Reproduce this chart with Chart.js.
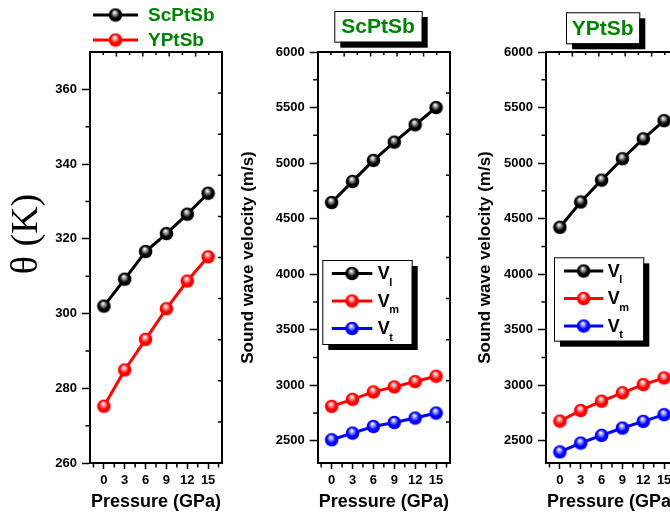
<!DOCTYPE html>
<html>
<head>
<meta charset="utf-8">
<script src="https://cdn.jsdelivr.net/npm/chart.js@4"></script>
<style>
  html, body { margin: 0; padding: 0; background: #fff; }
  #wrap { position: relative; width: 670px; height: 521px; overflow: hidden; background: #fff; }
  .panel { position: absolute; top: 0; height: 521px; }
  #c1 { left: 0; width: 232px; }
  #c2 { left: 232px; width: 228px; }
  #c3 { left: 460px; width: 228px; }
</style>
</head>
<body>
<div id="wrap">
  <div class="panel" id="c1"><canvas id="debyeChart"></canvas></div>
  <div class="panel" id="c2"><canvas id="scChart"></canvas></div>
  <div class="panel" id="c3"><canvas id="yChart"></canvas></div>
</div>
<script>
// data
const pressure = [0, 3, 6, 9, 12, 15];
const pressureTicks = [0, 3, 6, 9, 12, 15];
const pressureMinor = [-1.5, 1.5, 4.5, 7.5, 10.5, 13.5, 16.5];

const thetaScPtSb = [302.0, 309.2, 316.6, 321.4, 326.6, 332.2];
const thetaYPtSb = [275.2, 284.9, 293.1, 301.3, 308.7, 315.2];
const thetaTicks = [260, 280, 300, 320, 340, 360];
const thetaMinor = [270, 290, 310, 330, 350];

const vlScPtSb = [4645, 4835, 5024, 5189, 5345, 5500];
const vmScPtSb = [2810, 2873, 2940, 2985, 3033, 3081];
const vtScPtSb = [2509, 2569, 2629, 2665, 2705, 2750];

const vlYPtSb = [4422, 4650, 4847, 5039, 5218, 5382];
const vmYPtSb = [2677, 2773, 2857, 2932, 3006, 3066];
const vtYPtSb = [2400, 2480, 2549, 2615, 2675, 2735];

const velTicks = [2500, 3000, 3500, 4000, 4500, 5000, 5500, 6000];
const velMinor = [2750, 3250, 3750, 4250, 4750, 5250, 5750];

const GREEN = '#008000';
const FONT = 'Arial, "Liberation Sans", sans-serif';

// shaded ball used as point marker
function ball(color, light) {
  const size = 15, r = 6.8;
  const c = document.createElement('canvas');
  c.width = size; c.height = size;
  const g = c.getContext('2d');
  const grad = g.createRadialGradient(size / 2 - 1, size / 2 - 2.8, 0.3, size / 2, size / 2, r);
  grad.addColorStop(0, '#ffffff');
  grad.addColorStop(0.25, light);
  grad.addColorStop(0.62, color);
  grad.addColorStop(1, color);
  g.beginPath();
  g.arc(size / 2, size / 2, r, 0, Math.PI * 2);
  g.fillStyle = grad;
  g.fill();
  return c;
}
const balls = {
  black: ball('#000000', '#a0a0a0'),
  red: ball('#ff0000', '#ffa0a0'),
  blue: ball('#0000ff', '#a0a0ff')
};

function series(label, values, color) {
  return {
    label: label,
    data: values,
    borderColor: color === 'black' ? '#000' : (color === 'red' ? '#ff0000' : '#0000ff'),
    borderWidth: 3,
    pointStyle: balls[color],
    pointRadius: 7,
    tension: 0,
    fill: false,
    ballKey: color
  };
}

// frame, inward top/right ticks, outward minor ticks, title box and legend
const decor = {
  id: 'decor',
  afterDraw(chart, args, opts) {
    const ctx = chart.ctx;
    const a = chart.chartArea;
    const xs = chart.scales.x, ys = chart.scales.y;
    ctx.save();
    ctx.strokeStyle = '#000';
    ctx.lineWidth = 2;
    ctx.beginPath();
    ctx.moveTo(a.left, a.top); ctx.lineTo(a.right, a.top); ctx.lineTo(a.right, a.bottom);
    ctx.stroke();

    ctx.lineWidth = 1.5;
    ctx.beginPath();
    for (let i = 1; i < 10; i++) {
      const px = a.left + (a.right - a.left) * i / 10;
      ctx.moveTo(px, a.top); ctx.lineTo(px, a.top + (i % 2 ? 3 : 4.5));
      const py = a.top + (a.bottom - a.top) * i / 10;
      ctx.moveTo(a.right, py); ctx.lineTo(a.right - 4, py);
    }
    opts.yMinor.forEach(v => {
      const py = ys.getPixelForValue(v);
      ctx.moveTo(a.left, py); ctx.lineTo(a.left - 4.5, py);
    });
    pressureMinor.forEach(v => {
      const px = xs.getPixelForValue(v);
      ctx.moveTo(px, a.bottom); ctx.lineTo(px, a.bottom + 4.5);
    });
    ctx.stroke();

    if (opts.yTitle) {
      ctx.save();
      ctx.translate(opts.yTitle.x, opts.yTitle.y);
      ctx.rotate(-Math.PI / 2);
      ctx.font = '38px "Liberation Serif", "DejaVu Serif", serif';
      ctx.fillStyle = '#000';
      ctx.textAlign = 'center';
      ctx.textBaseline = 'middle';
      ctx.fillText(opts.yTitle.text, 0, 0);
      ctx.restore();
    }

    if (opts.titleBox) {
      const b = opts.titleBox;
      ctx.fillStyle = '#000';
      ctx.fillRect(b.x + 6, b.y + 6, b.w, b.h);
      ctx.fillStyle = '#fff';
      ctx.fillRect(b.x, b.y, b.w, b.h);
      ctx.lineWidth = 1;
      ctx.strokeRect(b.x + 0.5, b.y + 0.5, b.w, b.h);
      ctx.fillStyle = GREEN;
      ctx.font = 'bold 21px ' + FONT;
      ctx.textAlign = 'center';
      ctx.textBaseline = 'middle';
      ctx.fillText(b.text, b.x + b.w / 2, b.y + b.h / 2 + 1);
    }

    if (opts.legend) {
      const L = opts.legend;
      if (L.box) {
        ctx.fillStyle = '#000';
        ctx.fillRect(L.x + 6, L.y + 6, L.w, L.h);
        ctx.fillStyle = '#fff';
        ctx.fillRect(L.x, L.y, L.w, L.h);
        ctx.lineWidth = 1;
        ctx.strokeStyle = '#000';
        ctx.strokeRect(L.x + 0.5, L.y + 0.5, L.w, L.h);
      }
      chart.data.datasets.forEach((ds, i) => {
        const ry = L.y + L.first + i * L.step;
        ctx.strokeStyle = ds.borderColor;
        ctx.lineWidth = 3;
        ctx.beginPath();
        ctx.moveTo(L.x + L.lineFrom, ry); ctx.lineTo(L.x + L.lineTo, ry);
        ctx.stroke();
        const img = balls[ds.ballKey];
        ctx.drawImage(img, L.x + (L.lineFrom + L.lineTo) / 2 - img.width / 2, ry - img.height / 2);
        ctx.textAlign = 'left';
        ctx.textBaseline = 'middle';
        if (L.sub) {
          ctx.fillStyle = '#000';
          ctx.font = 'bold 18px ' + FONT;
          ctx.fillText('V', L.x + L.text, ry + 1);
          ctx.font = 'bold 11px ' + FONT;
          ctx.fillText(L.sub[i], L.x + L.text + 11.5, ry + 9);
        } else {
          ctx.fillStyle = GREEN;
          ctx.font = 'bold 19px ' + FONT;
          ctx.fillText(ds.label, L.x + L.text, ry + 1);
        }
      });
    }
    ctx.restore();
  }
};

function makeOptions(cfg) {
  return {
    responsive: true,
    maintainAspectRatio: false,
    animation: false,
    layout: { padding: { top: 52, right: 9, left: 0, bottom: 0 } },
    plugins: { legend: { display: false }, tooltip: { enabled: false }, decor: cfg.decor },
    scales: {
      x: {
        type: 'linear',
        min: -2, max: 17,
        afterBuildTicks: s => { s.ticks = pressureTicks.map(v => ({ value: v })); },
        afterFit: s => { s.height = 58; },
        border: { display: true, color: '#000', width: 2 },
        grid: { display: true, drawOnChartArea: false, drawTicks: true, tickLength: 6, tickWidth: 1.5, tickColor: '#000' },
        ticks: { color: '#000', padding: 4, maxRotation: 0, callback: v => String(v), font: { family: FONT, size: 13, weight: 'bold' } },
        title: { display: true, text: 'Pressure (GPa)', color: '#000', padding: { top: 0, bottom: 8 }, font: { family: FONT, size: 18, weight: 'bold' } }
      },
      y: {
        type: 'linear',
        min: cfg.yMin, max: cfg.yMax,
        afterBuildTicks: s => { s.ticks = cfg.yTicks.map(v => ({ value: v })); },
        afterFit: s => { s.width = cfg.yWidth; },
        border: { display: true, color: '#000', width: 2 },
        grid: { display: true, drawOnChartArea: false, drawTicks: true, tickLength: 8, tickWidth: 1.5, tickColor: '#000' },
        ticks: { color: '#000', padding: 5, callback: v => String(v), font: { family: FONT, size: 13, weight: 'bold' } },
        title: cfg.yTitle
      }
    }
  };
}

new Chart(document.getElementById('debyeChart'), {
  type: 'line',
  data: {
    labels: pressure,
    datasets: [
      series('ScPtSb', thetaScPtSb, 'black'),
      series('YPtSb', thetaYPtSb, 'red')
    ]
  },
  options: makeOptions({
    yMin: 260, yMax: 370, yTicks: thetaTicks, yWidth: 90,
    yTitle: { display: false },
    decor: {
      yMinor: thetaMinor,
      yTitle: { text: 'θ (K)', x: 27, y: 234 },
      legend: { x: 93, y: 15, first: 0, step: 25, lineFrom: 0, lineTo: 45, text: 55 }
    }
  }),
  plugins: [decor]
});

new Chart(document.getElementById('scChart'), {
  type: 'line',
  data: {
    labels: pressure,
    datasets: [
      series('Vl', vlScPtSb, 'black'),
      series('Vm', vmScPtSb, 'red'),
      series('Vt', vtScPtSb, 'blue')
    ]
  },
  options: makeOptions({
    yMin: 2300, yMax: 6000, yTicks: velTicks, yWidth: 85.7,
    yTitle: { display: true, text: 'Sound wave velocity (m/s)', color: '#000', padding: { top: 6 }, font: { family: FONT, size: 17, weight: 'bold' } },
    decor: {
      yMinor: velMinor,
      titleBox: { text: 'ScPtSb', x: 102.3, y: 11, w: 87.4, h: 30.7 },
      legend: { box: true, x: 90.3, y: 260, w: 89.4, h: 84, first: 13.5, step: 27.5, lineFrom: 9.5, lineTo: 50, text: 55.5, sub: ['l', 'm', 't'] }
    }
  }),
  plugins: [decor]
});

new Chart(document.getElementById('yChart'), {
  type: 'line',
  data: {
    labels: pressure,
    datasets: [
      series('Vl', vlYPtSb, 'black'),
      series('Vm', vmYPtSb, 'red'),
      series('Vt', vtYPtSb, 'blue')
    ]
  },
  options: makeOptions({
    yMin: 2300, yMax: 6000, yTicks: velTicks, yWidth: 86,
    yTitle: { display: true, text: 'Sound wave velocity (m/s)', color: '#000', padding: { top: 15 }, font: { family: FONT, size: 17, weight: 'bold' } },
    decor: {
      yMinor: velMinor,
      titleBox: { text: 'YPtSb', x: 106, y: 12.3, w: 73.3, h: 31 },
      legend: { box: true, x: 94, y: 257.3, w: 89.3, h: 83.4, first: 13.7, step: 27.5, lineFrom: 10, lineTo: 49.3, text: 53.7, sub: ['l', 'm', 't'] }
    }
  }),
  plugins: [decor]
});
</script>
</body>
</html>
